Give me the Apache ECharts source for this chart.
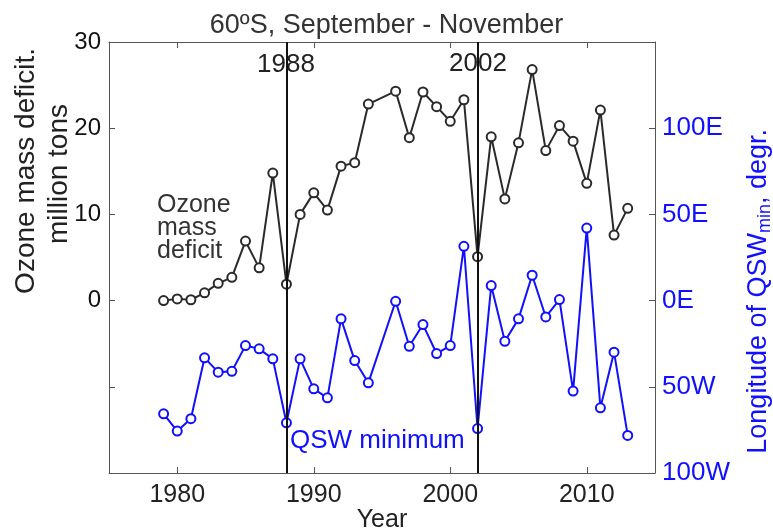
<!DOCTYPE html>
<html>
<head>
<meta charset="utf-8">
<script src="https://cdn.jsdelivr.net/npm/echarts@6/dist/echarts.min.js"></script>
<style>
  html, body { margin: 0; padding: 0; background: #fff; }
  #chart { width: 773px; height: 532px; }
</style>
</head>
<body>
<div id="chart"></div>
<script>
    // years 1979-2013, 1995 has no data
    var years = [1979, 1980, 1981, 1982, 1983, 1984, 1985, 1986, 1987, 1988, 1989, 1990, 1991, 1992, 1993, 1994, 1995,
        1996, 1997, 1998, 1999, 2000, 2001, 2002, 2003, 2004, 2005, 2006, 2007, 2008, 2009, 2010, 2011, 2012, 2013];
    // ozone mass deficit, million tons
    var ozoneDeficit = [0.0, 0.2, 0.1, 0.9, 2.0, 2.7, 6.9, 3.8, 14.8, 1.9, 10.0, 12.5, 10.5, 15.6, 16.0, 22.8, null,
        24.3, 18.9, 24.2, 22.5, 20.8, 23.3, 5.1, 19.0, 11.8, 18.3, 26.8, 17.4, 20.3, 18.5, 13.6, 22.1, 7.6, 10.7];
    // longitude of QSW minimum, degrees (E positive, W negative)
    var qswLon = [-65.7, -75.7, -68.5, -33.2, -41.5, -41.0, -26.1, -28.0, -33.8, -70.9, -33.8, -51.2, -56.4, -10.6, -34.8, -47.7, null,
        -0.4, -26.5, -13.9, -30.7, -26.1, 31.5, -74.2, 8.7, -23.6, -10.6, 14.7, -9.5, 0.6, -52.5, 42.1, -62.2, -29.9, -78.2];
    var markYears = [1988, 2002];
    var xTicks = [1980, 1990, 2000, 2010];
    var leftLabels = [0, 10, 20, 30];
    var leftTicks = [-10, 0, 10, 20];
    var rightLabels = [-100, -50, 0, 50, 100];
    var rightTicks = [-50, 0, 50, 100];

    var font = 'Arial, "Liberation Sans", sans-serif';
    var blue = '#1010ff';
    var dark = '#2a2a2a';

    function pairs(vals) {
        return years.map(function (y, i) { return [y, vals[i]]; });
    }
    function lonFmt(v) {
        if (v === 0) return '0E';
        return Math.abs(v) + (v > 0 ? 'E' : 'W');
    }

    var myChart = echarts.init(document.getElementById('chart'));
    var option = {
        backgroundColor: '#fff',
        animation: false,
        title: {
            text: '60ºS, September - November',
            left: 'center',
            top: 7,
            textStyle: { fontFamily: font, fontSize: 27, fontWeight: 'normal', color: '#333' }
        },
        grid: { left: 109, right: 118, top: 42, bottom: 59, outerBoundsMode: 'none', containLabel: false },
        xAxis: [{
            type: 'value',
            min: 1975,
            max: 2015,
            name: 'Year',
            nameLocation: 'middle',
            nameGap: 35,
            nameMoveOverlap: false,
            nameTextStyle: { fontFamily: font, fontSize: 25, color: '#222' },
            axisLine: { onZero: false, lineStyle: { color: '#555', width: 1 } },
            axisTick: { inside: true, length: 6, customValues: xTicks, lineStyle: { color: '#555' } },
            axisLabel: {
                customValues: xTicks, formatter: function (v) { return String(v); },
                fontFamily: font, fontSize: 25, color: '#222', margin: 10
            },
            splitLine: { show: false }
        }, {
            type: 'value',
            position: 'top',
            min: 1975,
            max: 2015,
            axisLine: { onZero: false, lineStyle: { color: '#555', width: 1 } },
            axisTick: { inside: true, length: 6, customValues: xTicks, lineStyle: { color: '#555' } },
            axisLabel: { show: false },
            splitLine: { show: false }
        }],
        yAxis: [{
            type: 'value',
            min: -20,
            max: 30,
            interval: 10,
            axisLine: { show: true, onZero: false, lineStyle: { color: '#555', width: 1 } },
            axisTick: { show: true, inside: true, length: 6, customValues: leftTicks, lineStyle: { color: '#555' } },
            axisLabel: { customValues: leftLabels, fontFamily: font, fontSize: 24, color: '#111', margin: 8 },
            splitLine: { show: false }
        }, {
            type: 'value',
            min: -100,
            max: 150,
            interval: 50,
            position: 'right',
            axisLine: { show: true, onZero: false, lineStyle: { color: '#555', width: 1 } },
            axisTick: { show: true, inside: true, length: 6, customValues: rightTicks, lineStyle: { color: '#555' } },
            axisLabel: { customValues: rightLabels, formatter: lonFmt, fontFamily: font, fontSize: 26, color: blue, margin: 7 },
            splitLine: { show: false }
        }],
        graphic: [
            {
                type: 'text', left: 12, top: 48, rotation: Math.PI / 2,
                style: { text: 'Ozone mass deficit.', font: '28px ' + font, fill: '#222' }
            },
            {
                type: 'text', left: 45, top: 104, rotation: Math.PI / 2,
                style: { text: 'million tons', font: '28px ' + font, fill: '#222' }
            },
            {
                type: 'text', left: 745, top: 129, rotation: Math.PI / 2,
                style: {
                    text: '{a|Longitude of QSW}{s|min}{a|, degr.}',
                    rich: {
                        a: { fontFamily: font, fontSize: 27, fill: blue, color: blue },
                        s: { fontFamily: font, fontSize: 18, fill: blue, color: blue, padding: [14, 0, 0, 0] }
                    }
                }
            },
            {
                type: 'text', left: 157, top: 193,
                style: { text: 'Ozone\nmass\ndeficit', font: '25px ' + font, fill: '#333', lineHeight: 23 }
            },
            {
                type: 'text', left: 290, top: 428,
                style: { text: 'QSW minimum', font: '26px ' + font, fill: blue }
            },
            {
                type: 'text', left: 257, top: 52,
                style: { text: '1988', font: '26px ' + font, fill: '#222' }
            },
            {
                type: 'text', left: 449, top: 51,
                style: { text: '2002', font: '26px ' + font, fill: '#222' }
            }
        ],
        series: [{
            name: 'Ozone mass deficit',
            type: 'line',
            yAxisIndex: 0,
            data: pairs(ozoneDeficit),
            connectNulls: true,
            symbol: 'emptyCircle',
            symbolSize: 9,
            lineStyle: { color: dark, width: 2 },
            itemStyle: { color: dark, borderColor: dark, borderWidth: 1.5 },
            markLine: {
                silent: true,
                symbol: 'none',
                label: { show: false },
                lineStyle: { color: '#111', width: 2, type: 'solid' },
                data: markYears.map(function (y) { return { xAxis: y }; })
            },
            z: 3
        }, {
            name: 'QSW minimum',
            type: 'line',
            yAxisIndex: 1,
            data: pairs(qswLon),
            connectNulls: true,
            symbol: 'emptyCircle',
            symbolSize: 9,
            lineStyle: { color: blue, width: 2 },
            itemStyle: { color: blue, borderColor: blue, borderWidth: 1.5 },
            z: 2
        }]
    };
    myChart.setOption(option);
</script>
</body>
</html>
